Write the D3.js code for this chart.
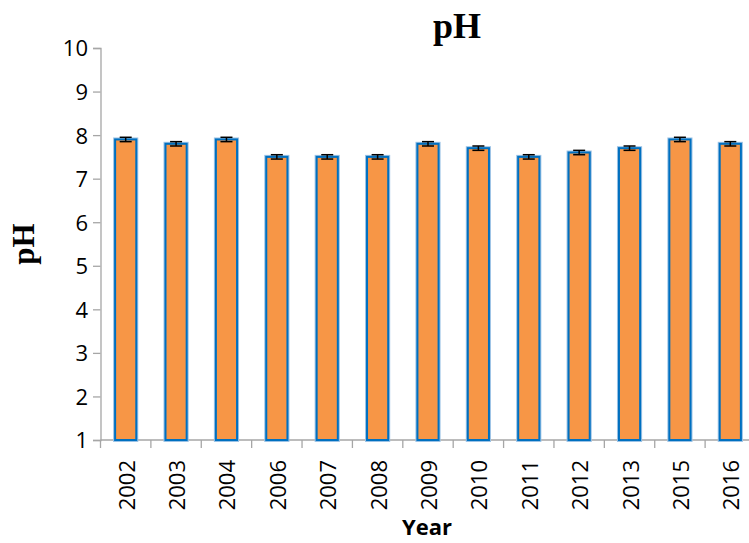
<!DOCTYPE html>
<html>
<head>
<meta charset="utf-8">
<script src="https://cdn.jsdelivr.net/npm/d3@7"></script>
<style>
    body { margin: 0; background: #fff; }
    svg { display: block; }
    .tick-label { font-family: "Open Sans", "Liberation Sans", sans-serif; font-size: 22px; fill: #000; }
</style>
</head>
<body>
<div id="chart"></div>
<script>
const years = ["2002", "2003", "2004", "2006", "2007", "2008", "2009", "2010", "2011", "2012", "2013", "2015", "2016"];
const phValues = [7.9, 7.8, 7.9, 7.5, 7.5, 7.5, 7.8, 7.7, 7.5, 7.6, 7.7, 7.9, 7.8];
const phErrors = [0.05, 0.05, 0.05, 0.05, 0.05, 0.05, 0.05, 0.05, 0.05, 0.05, 0.05, 0.05, 0.05];
const yTicks = [1, 2, 3, 4, 5, 6, 7, 8, 9, 10];

const width = 749, height = 543;
const axisColor = "#a6a6a6";

let svg = d3.select("#chart").append("svg")
    .attr("width", width)
    .attr("height", height);

// x range runs past the right edge, the original is cropped there
let x = d3.scaleBand()
    .domain(years)
    .range([100.5, 755.5])
    .paddingInner(0.58)
    .paddingOuter(0.29);

let y = d3.scaleLinear()
    .domain([1, 10])
    .range([440, 48]);

let data = years.map((yr, i) => ({year: yr, value: phValues[i], err: phErrors[i]}));

// y axis
let yAxis = svg.append("g")
    .attr("transform", "translate(100.5,0)")
    .call(d3.axisLeft(y).tickValues(yTicks).tickSize(7.5).tickPadding(5).tickFormat(d3.format("d")));
yAxis.select(".domain").attr("stroke", axisColor).attr("stroke-width", 1.3);
yAxis.selectAll(".tick line").attr("stroke", axisColor).attr("stroke-width", 1.3);
yAxis.selectAll(".tick text").attr("class", "tick-label").attr("dy", "0.36em");

// x axis line + category boundary ticks
let step = x.step();
let x0 = x.range()[0];
svg.append("line")
    .attr("x1", x0).attr("x2", x.range()[1])
    .attr("y1", y(1)).attr("y2", y(1))
    .attr("stroke", axisColor).attr("stroke-width", 1.3);

svg.selectAll(".xtick")
    .data(d3.range(years.length + 1))
    .enter().append("line")
    .attr("class", "xtick")
    .attr("x1", i => x0 + i * step)
    .attr("x2", i => x0 + i * step)
    .attr("y1", y(1))
    .attr("y2", y(1) + 8)
    .attr("stroke", axisColor).attr("stroke-width", 1.3);

svg.selectAll(".xlabel")
    .data(years)
    .enter().append("text")
    .attr("class", "tick-label")
    .attr("transform", d => `translate(${x(d) + x.bandwidth() / 2 + 9},${y(1) + 20}) rotate(-90)`)
    .attr("text-anchor", "end")
    .text(d => d);

// bars
svg.selectAll(".bar-glow")
    .data(data)
    .enter().append("rect")
    .attr("x", d => x(d.year))
    .attr("y", d => y(d.value))
    .attr("width", x.bandwidth())
    .attr("height", d => y(1) - y(d.value))
    .attr("fill", "none")
    .attr("stroke", "#9cc3e6")
    .attr("stroke-width", 4);

svg.selectAll(".bar")
    .data(data)
    .enter().append("rect")
    .attr("class", "bar")
    .attr("x", d => x(d.year))
    .attr("y", d => y(d.value))
    .attr("width", x.bandwidth())
    .attr("height", d => y(1) - y(d.value))
    .attr("fill", "#f79646")
    .attr("stroke", "#0070c0")
    .attr("stroke-width", 2);

// error bars
let errG = svg.selectAll(".err")
    .data(data)
    .enter().append("g")
    .attr("class", "err")
    .attr("stroke", "#000")
    .attr("stroke-width", 1.5);

errG.append("line")
    .attr("x1", d => x(d.year) + x.bandwidth() / 2)
    .attr("x2", d => x(d.year) + x.bandwidth() / 2)
    .attr("y1", d => y(d.value + d.err))
    .attr("y2", d => y(d.value - d.err));

errG.selectAll(".cap")
    .data(d => [d.value + d.err, d.value - d.err].map(v => ({year: d.year, v: v})))
    .enter().append("line")
    .attr("x1", d => x(d.year) + x.bandwidth() / 2 - 6)
    .attr("x2", d => x(d.year) + x.bandwidth() / 2 + 6)
    .attr("y1", d => y(d.v))
    .attr("y2", d => y(d.v));

// titles
svg.append("text")
    .attr("x", 457)
    .attr("y", 38)
    .attr("text-anchor", "middle")
    .style("font-family", "'Liberation Serif', 'DejaVu Serif', serif")
    .style("font-weight", "bold")
    .style("font-size", "36px")
    .text("pH");

svg.append("text")
    .attr("transform", "translate(34,244) rotate(-90)")
    .attr("text-anchor", "middle")
    .style("font-family", "'Liberation Serif', 'DejaVu Serif', serif")
    .style("font-weight", "bold")
    .style("font-size", "31px")
    .text("pH");

svg.append("text")
    .attr("x", 427)
    .attr("y", 535)
    .attr("text-anchor", "middle")
    .style("font-family", "'Open Sans', 'Liberation Sans', sans-serif")
    .style("font-weight", "bold")
    .style("font-size", "22px")
    .text("Year");
</script>
</body>
</html>
